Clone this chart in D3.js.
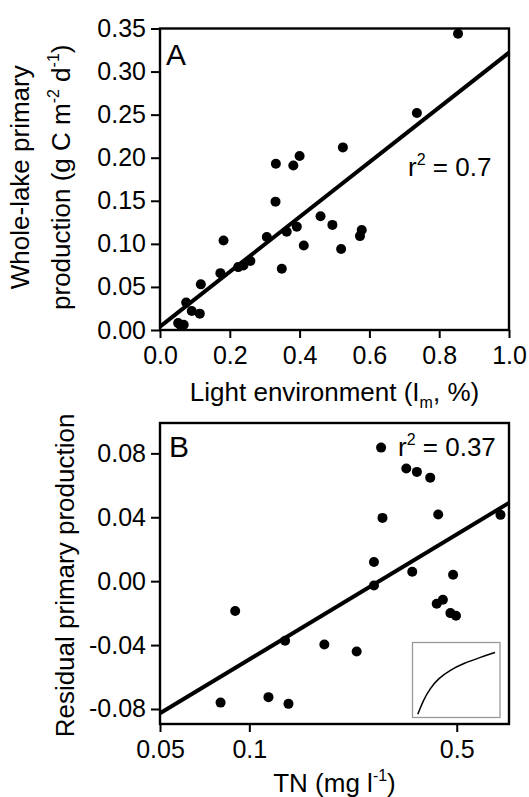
<!DOCTYPE html>
<html>
<head>
<meta charset="utf-8">
<script src="https://cdn.jsdelivr.net/npm/d3@7"></script>
<style>
  body { margin: 0; background: #fff; }
  svg { display: block; font-family: "Liberation Sans", Arial, sans-serif; }
</style>
</head>
<body>
<div id="chart"></div>
<script>
// Panel A: light environment (Im, %) vs whole-lake primary production
const lightA = [0.854, 0.736, 0.524, 0.400, 0.382, 0.332, 0.331, 0.460, 0.494, 0.578,
                0.573, 0.392, 0.363, 0.306, 0.412, 0.519, 0.349, 0.182, 0.173, 0.224,
                0.239, 0.259, 0.117, 0.075, 0.091, 0.114, 0.052, 0.060, 0.068];
const prodA  = [0.344, 0.252, 0.212, 0.202, 0.191, 0.193, 0.149, 0.132, 0.122, 0.116,
                0.109, 0.120, 0.114, 0.108, 0.098, 0.094, 0.071, 0.104, 0.066, 0.073,
                0.075, 0.080, 0.053, 0.032, 0.022, 0.019, 0.008, 0.005, 0.006];
const fitA = { intercept: 0.004, slope: 0.318 };
const xTicksA = [0, 0.2, 0.4, 0.6, 0.8, 1.0];
const yTicksA = [0, 0.05, 0.10, 0.15, 0.20, 0.25, 0.30, 0.35];

// Panel B: TN (mg/l) vs residual primary production
const tnB  = [0.278, 0.338, 0.367, 0.407, 0.281, 0.433, 0.702, 0.263, 0.354, 0.486, 0.263,
              0.428, 0.449, 0.476, 0.497, 0.0896, 0.132, 0.179, 0.230, 0.080, 0.116, 0.1355];
const residB = [0.0836, 0.0705, 0.0684, 0.0648, 0.0396, 0.0417, 0.0415, 0.012, 0.0059, 0.004, -0.0027,
                -0.0141, -0.0116, -0.020, -0.0217, -0.0187, -0.0373, -0.0396, -0.044, -0.076, -0.0726, -0.0768];
const fitB = { intercept: 0.063, slope: 0.112 }; // y = a + b*log10(TN)
const xTicksB = [0.05, 0.1, 0.5];
const xLabelsB = ["0.05", "0.1", "0.5"];
const yTicksB = [-0.08, -0.04, 0, 0.04, 0.08];

// inset: untransformed shape of the fit (normalised to the inset box)
const insetU = [0.061, 0.125, 0.202, 0.297, 0.430, 0.582, 0.772, 0.943];
const insetV = [0.044, 0.235, 0.389, 0.522, 0.633, 0.721, 0.801, 0.867];

const width = 529, height = 797;
const svg = d3.select("#chart").append("svg")
  .attr("width", width).attr("height", height);

const left = 160, right = 509;
const tickFont = 25, labelFont = 26;

function frame(top, bottom) {
  svg.append("rect")
    .attr("x", left).attr("y", top)
    .attr("width", right - left).attr("height", bottom - top)
    .attr("fill", "none").attr("stroke", "#000").attr("stroke-width", 2.4);
}

function styleAxis(g) {
  g.select(".domain").remove();
  g.selectAll(".tick line").attr("stroke", "#000").attr("stroke-width", 2);
  g.selectAll(".tick text").attr("fill", "#000").style("font-size", tickFont + "px")
    .style("font-family", "Liberation Sans, Arial, sans-serif");
}

function dots(data, x, y) {
  svg.append("g").selectAll("circle")
    .data(data).enter().append("circle")
    .attr("cx", d => x(d[0]))
    .attr("cy", d => y(d[1]))
    .attr("r", 5)
    .attr("fill", "#000");
}

// ---------- Panel A ----------
const topA = 28.5, bottomA = 330;
const xA = d3.scaleLinear().domain([0, 1]).range([left, right]);
const yA = d3.scaleLinear().domain([0, 0.35]).range([bottomA, topA]);

svg.append("g").attr("transform", `translate(0,${bottomA})`)
  .call(d3.axisBottom(xA).tickValues(xTicksA).tickFormat(d3.format(".1f")).tickSize(8).tickPadding(8))
  .call(styleAxis);
svg.append("g").attr("transform", `translate(${left},0)`)
  .call(d3.axisLeft(yA).tickValues(yTicksA).tickFormat(d3.format(".2f")).tickSize(9).tickPadding(5))
  .call(styleAxis);

const lineA = d3.line().x(d => xA(d)).y(d => yA(fitA.intercept + fitA.slope * d));
svg.append("path").datum(xA.domain())
  .attr("d", lineA).attr("fill", "none").attr("stroke", "#000").attr("stroke-width", 4);

dots(d3.zip(lightA, prodA), xA, yA);
frame(topA, bottomA);

svg.append("text").attr("x", 166).attr("y", 65).style("font-size", "30px").text("A");

const r2A = svg.append("text").attr("x", 408).attr("y", 176).style("font-size", labelFont + "px");
r2A.append("tspan").text("r");
r2A.append("tspan").attr("dy", -11).style("font-size", "16px").text("2");
r2A.append("tspan").attr("dy", 11).text(" = 0.7");

const xlabA = svg.append("text").attr("x", (left + right) / 2).attr("y", 401)
  .attr("text-anchor", "middle").style("font-size", labelFont + "px");
xlabA.append("tspan").text("Light environment (I");
xlabA.append("tspan").attr("dy", 7).style("font-size", "16px").text("m");
xlabA.append("tspan").attr("dy", -7).text(", %)");

const midA = (topA + bottomA) / 2 - 2;
svg.append("text").attr("transform", `translate(29,${midA}) rotate(-90)`)
  .attr("text-anchor", "middle").style("font-size", labelFont + "px")
  .text("Whole-lake primary");
const yl2 = svg.append("text").attr("transform", `translate(70,${midA}) rotate(-90)`)
  .attr("text-anchor", "middle").style("font-size", labelFont + "px");
yl2.append("tspan").text("production (g C m");
yl2.append("tspan").attr("dy", -11).style("font-size", "16px").text("-2");
yl2.append("tspan").attr("dy", 11).text(" d");
yl2.append("tspan").attr("dy", -11).style("font-size", "16px").text("-1");
yl2.append("tspan").attr("dy", 11).text(")");

// ---------- Panel B ----------
const topB = 423, bottomB = 724;
const xB = d3.scaleLog().domain([0.05, 0.75]).range([left, right]);
const yB = d3.scaleLinear().domain([-0.0894, 0.099]).range([bottomB, topB]);

svg.append("g").attr("transform", `translate(0,${bottomB})`)
  .call(d3.axisBottom(xB).tickValues(xTicksB).tickFormat((d, i) => xLabelsB[i]).tickSize(8).tickPadding(8))
  .call(styleAxis);
svg.append("g").attr("transform", `translate(${left},0)`)
  .call(d3.axisLeft(yB).tickValues(yTicksB).tickFormat(d => d.toFixed(2)).tickSize(9).tickPadding(5))
  .call(styleAxis);

const lineB = d3.line().x(d => xB(d)).y(d => yB(fitB.intercept + fitB.slope * Math.log10(d)));
svg.append("path").datum(xB.domain())
  .attr("d", lineB).attr("fill", "none").attr("stroke", "#000").attr("stroke-width", 4);

dots(d3.zip(tnB, residB), xB, yB);
frame(topB, bottomB);

svg.append("text").attr("x", 169).attr("y", 457).style("font-size", "30px").text("B");

const r2B = svg.append("text").attr("x", 398).attr("y", 456).style("font-size", labelFont + "px");
r2B.append("tspan").text("r");
r2B.append("tspan").attr("dy", -11).style("font-size", "16px").text("2");
r2B.append("tspan").attr("dy", 11).text(" = 0.37");

const xlabB = svg.append("text").attr("x", (left + right) / 2).attr("y", 792)
  .attr("text-anchor", "middle").style("font-size", labelFont + "px");
xlabB.append("tspan").text("TN (mg l");
xlabB.append("tspan").attr("dy", -11).style("font-size", "16px").text("-1");
xlabB.append("tspan").attr("dy", 11).text(")");

svg.append("text").attr("transform", `translate(74,${(topB + bottomB) / 2 + 2}) rotate(-90)`)
  .attr("text-anchor", "middle").style("font-size", labelFont + "px")
  .text("Residual primary production");

// inset
const inset = { x0: 412.5, x1: 500, y0: 642.5, y1: 717.5 };
svg.append("rect")
  .attr("x", inset.x0).attr("y", inset.y0)
  .attr("width", inset.x1 - inset.x0).attr("height", inset.y1 - inset.y0)
  .attr("fill", "#fff").attr("stroke", "#999").attr("stroke-width", 1.3);
const iu = d3.scaleLinear().domain([0, 1]).range([inset.x0, inset.x1]);
const iv = d3.scaleLinear().domain([0, 1]).range([inset.y1, inset.y0]);
svg.append("path").datum(d3.zip(insetU, insetV))
  .attr("d", d3.line().x(d => iu(d[0])).y(d => iv(d[1])).curve(d3.curveBasis))
  .attr("fill", "none").attr("stroke", "#000").attr("stroke-width", 1.5);
</script>
</body>
</html>
